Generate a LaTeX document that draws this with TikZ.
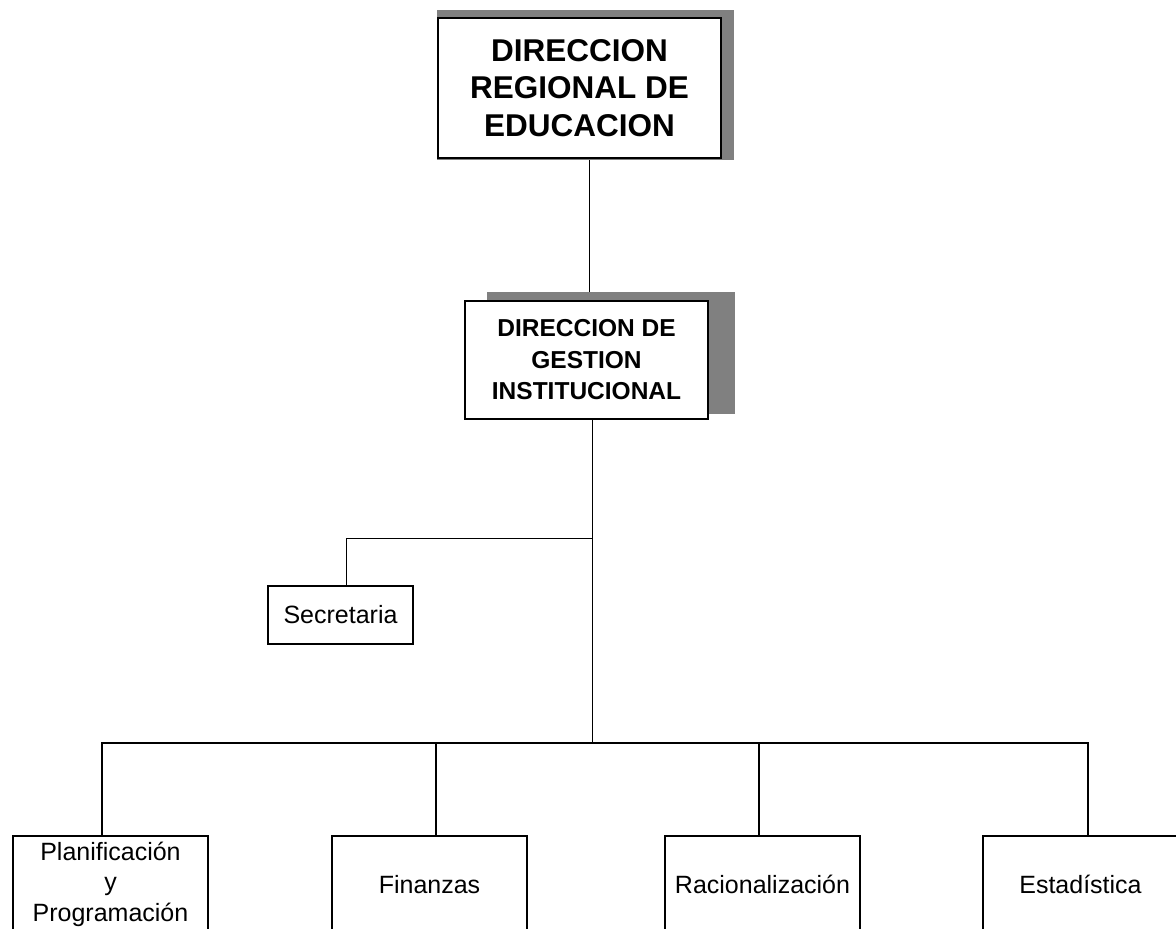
\documentclass[tikz,border=0pt]{standalone}
\usepackage{fontspec}
\setmainfont{Liberation Sans}
\usetikzlibrary{backgrounds,calc}
\definecolor{shadowgray}{RGB}{128,128,128}
\begin{document}
\begin{tikzpicture}[x=1pt,y=-1pt,
  topbox/.style={draw=black, line width=1.3pt, fill=white, minimum width=283pt, minimum height=140pt, align=center, inner sep=0pt, font=\fontsize{31.5}{37.5}\selectfont\bfseries},
  midbox/.style={draw=black, line width=1.2pt, fill=white, minimum width=243pt, minimum height=118pt, align=center, inner sep=0pt, font=\fontsize{24.5}{31.5}\selectfont\bfseries},
  secbox/.style={draw=black, line width=1.1pt, fill=white, minimum width=145pt, minimum height=58pt, inner sep=0pt, font=\fontsize{25}{30}\selectfont},
  unitbox/.style={draw=black, line width=2pt, fill=white, minimum width=195pt, minimum height=96pt, align=center, inner sep=0pt, font=\fontsize{25}{30.5}\selectfont},
  shadowfill/.style={fill=shadowgray, draw=none},
  thinline/.style={draw=black, line width=1pt},
  busline/.style={draw=black, line width=2.6pt},
  dropline/.style={draw=black, line width=2pt}
]
\useasboundingbox (0,0) rectangle (1176,929);

% nodes
\node[topbox] (dre) at (579.5,88) {DIRECCION\\REGIONAL DE\\EDUCACION};
\node[midbox] (dgi) at (586.5,360) {DIRECCION DE\\GESTION\\INSTITUCIONAL};
\node[secbox] (sec) at (340.5,615) {Secretaria};
\node[unitbox] (pla) at (110.5,884) {Planificación\\y\\Programación};
\node[unitbox, text height=18pt, text depth=0pt] (fin) at (429.5,884) {Finanzas};
\node[unitbox, text height=18pt, text depth=0pt] (rac) at (762.5,884) {Racionalización};
\node[unitbox, text height=18pt, text depth=0pt] (est) at (1080.5,884) {Estadística};

% coordinates
\coordinate (bus) at (592,743);
\coordinate (sj) at (592,538);
\coordinate (busL) at (101,743);
\coordinate (busR) at (1089,743);
\coordinate (t1) at (102,743);
\coordinate (t2) at (436,743);
\coordinate (t3) at (759,743);
\coordinate (t4) at (1088,743);

\begin{pgfonlayer}{background}
  \draw[thinline] ($(dre.south)+(9.5,0)$) -- ($(dgi.north)+(2.5,0)$);
  \draw[thinline] ($(dgi.south)+(5.5,0)$) -- (bus);
  \draw[thinline] (sj) -| ($(sec.north)+(5.5,0)$);
  \draw[busline] (busL) -- (busR);
  \draw[dropline] (t1) -- (t1 |- pla.north);
  \draw[dropline] (t2) -- (t2 |- fin.north);
  \draw[dropline] (t3) -- (t3 |- rac.north);
  \draw[dropline] (t4) -- (t4 |- est.north);
  \fill[shadowfill] ($(dre.north west)+(0,-7)$) rectangle ($(dre.south east)+(12,1)$);
  \fill[shadowfill] ($(dgi.north west)+(23,-8)$) rectangle ($(dgi.south east)+(26,-6)$);
\end{pgfonlayer}
\end{tikzpicture}
\end{document}
